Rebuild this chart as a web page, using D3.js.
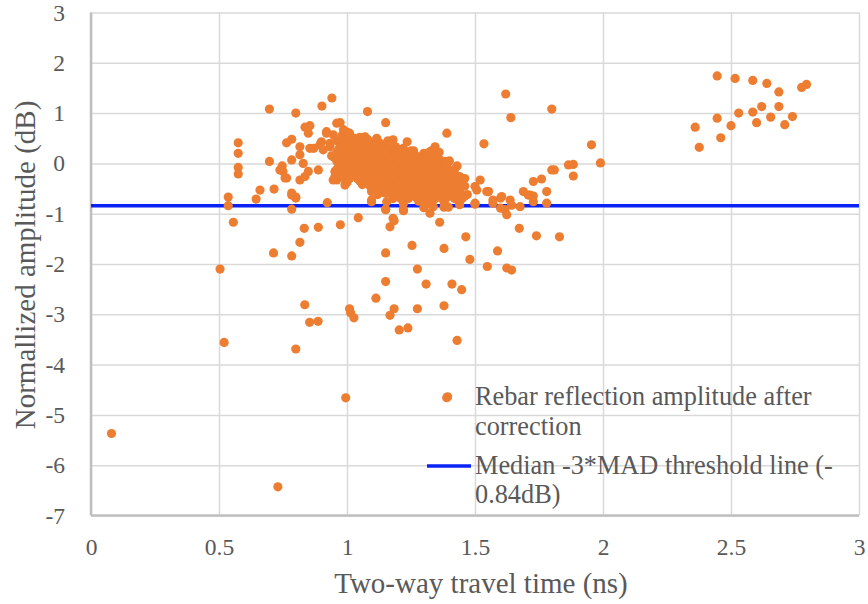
<!DOCTYPE html>
<html><head><meta charset="utf-8">
<script src="https://cdn.jsdelivr.net/npm/d3@7"></script>
<style>
html,body{margin:0;padding:0;background:#fff;}
</style></head>
<body>
<svg id="chart" width="868" height="604"></svg>
<script>
// ---------- data ----------
const xTicks = [0, 0.5, 1, 1.5, 2, 2.5, 3];
const yTicks = [-7, -6, -5, -4, -3, -2, -1, 0, 1, 2, 3];
const xTickLabels = ["0", "0.5", "1", "1.5", "2", "2.5", "3"];
const yTickLabels = ["-7", "-6", "-5", "-4", "-3", "-2", "-1", "0", "1", "2", "3"];
const thresholdValue = -0.84;
const legendSeriesLines = ["Rebar reflection amplitude after", "correction"];
const legendThresholdLines = ["Median -3*MAD threshold line (-", "0.84dB)"];
const xTitle = "Two-way travel time (ns)";
const yTitle = "Normallized amplitude (dB)";

// travel time (ns) of each point
const travelTime = [
  // low outliers
  0.08, 0.73, 0.504, 0.52, 0.713, 0.784, 0.816, 0.835, 0.854, 0.887, 0.80, 0.995,
  1.01, 1.014, 1.027, 1.113, 1.151, 1.151, 1.184, 1.168, 1.204, 1.238, 1.254, 1.275,
  1.309, 1.275, 1.379, 1.41, 1.448, 1.379, 1.43, 1.393, 1.464, 1.48,
  // near/below threshold
  0.536, 0.536, 0.556, 0.645, 0.784, 0.784, 0.80, 0.833, 0.888, 0.923, 0.974, 1.044,
  1.096, 1.151, 1.168, 1.184, 1.221, 1.324, 1.362, 1.379, 1.396, 1.50, 1.548,
  1.096, 1.151, 1.22, 1.18, 1.096, 1.148, 1.155,
  // left cluster
  0.575, 0.575, 0.575, 0.575, 0.697, 0.80, 0.697, 0.66, 0.715, 0.747, 0.75, 0.764,
  0.764, 0.784, 0.784, 0.816, 0.836, 0.855, 0.849, 0.816, 0.816, 0.829, 0.849, 0.836,
  0.855, 0.888, 0.902, 0.941, 0.90, 0.92, 0.934, 0.946, 0.96, 0.966, 0.953, 0.96,
  0.738, 0.758, 0.784, 0.80, 0.87, 0.894, 0.907, 0.933, 0.94, 0.946, 0.953, 0.992,
  1.01, 1.04, 0.92, 0.946, 0.986, 1.01, 1.03, 1.07, 1.116, 1.18, 1.19,
  1.08, 1.151, 1.235, 0.973, 1.324, 1.344, 1.39, 1.535,
  // right side of main cluster
  1.363, 1.383, 1.377, 1.43, 1.44, 1.42, 1.52, 1.50, 1.546, 1.57, 1.60, 1.50, 1.57,
  1.507, 1.552, 1.604, 1.637, 1.643, 1.60, 1.617, 1.624, 1.676, 1.673, 1.689, 1.708,
  1.728, 1.76, 1.728, 1.78, 1.78, 1.80, 1.81, 1.865, 1.74, 1.83, 1.324, 1.35, 1.337,
  1.62, 1.64, 1.80, 1.955, 1.99, 1.884, 1.884, 1.588, 1.624, 1.643, 1.552, 1.715, 1.728,
  1.44, 1.45, 1.46, 1.47,
  // dense blob, part 1
  0.96, 0.96, 0.96, 0.96,
  0.98, 0.98, 0.98, 0.98, 0.98,
  1.00, 1.00, 1.00, 1.00, 1.00, 1.00,
  1.02, 1.02, 1.02, 1.02, 1.02,
  1.04, 1.04, 1.04, 1.04, 1.04, 1.04,
  1.06, 1.06, 1.06, 1.06, 1.06,
  1.08, 1.08, 1.08, 1.08, 1.08,
  1.10, 1.10, 1.10, 1.10, 1.10, 1.10,
  1.12, 1.12, 1.12, 1.12, 1.12,
  1.14, 1.14, 1.14, 1.14, 1.14,
  1.16, 1.16, 1.16, 1.16, 1.16, 1.16,
  1.18, 1.18, 1.18, 1.18, 1.18,
  1.20, 1.20, 1.20, 1.20, 1.20,
  1.22, 1.22, 1.22, 1.22, 1.22, 1.22,
  1.24, 1.24, 1.24, 1.24, 1.24,
  1.26, 1.26, 1.26, 1.26, 1.26,
  1.28, 1.28, 1.28, 1.28, 1.28,
  1.30, 1.30, 1.30, 1.30, 1.30, 1.30,
  1.32, 1.32, 1.32, 1.32, 1.32,
  1.34, 1.34, 1.34, 1.34, 1.34,
  1.36, 1.36, 1.36, 1.36, 1.36,
  1.38, 1.38, 1.38, 1.38,
  1.40, 1.40, 1.40, 1.40,
  1.42, 1.42, 1.42,
  1.44, 1.44, 1.44,
  1.46, 1.46,
  // dense blob, part 2
  0.97, 0.97, 0.97,
  0.99, 0.99, 0.99, 0.99,
  1.01, 1.01, 1.01, 1.01, 1.01,
  1.03, 1.03, 1.03, 1.03,
  1.05, 1.05, 1.05, 1.05, 1.05,
  1.07, 1.07, 1.07, 1.07,
  1.09, 1.09, 1.09, 1.09, 1.09,
  1.11, 1.11, 1.11, 1.11,
  1.13, 1.13, 1.13, 1.13, 1.13,
  1.15, 1.15, 1.15, 1.15, 1.15,
  1.17, 1.17, 1.17, 1.17, 1.17,
  1.19, 1.19, 1.19, 1.19, 1.19,
  1.21, 1.21, 1.21, 1.21, 1.21,
  1.23, 1.23, 1.23, 1.23, 1.23,
  1.25, 1.25, 1.25, 1.25, 1.25,
  1.27, 1.27, 1.27, 1.27, 1.27,
  1.29, 1.29, 1.29, 1.29,
  1.31, 1.31, 1.31, 1.31, 1.31,
  1.33, 1.33, 1.33, 1.33, 1.33,
  1.35, 1.35, 1.35, 1.35,
  1.37, 1.37, 1.37, 1.37,
  1.39, 1.39, 1.39, 1.39,
  1.41, 1.41, 1.41,
  1.43, 1.43, 1.43,
  // far right cluster
  2.446, 2.516, 2.585, 2.64, 2.687, 2.776, 2.795, 2.62, 2.687, 2.585, 2.53, 2.60,
  2.655, 2.74, 2.71, 2.446, 2.50, 2.46, 2.36, 2.376
];

// normalized amplitude (dB) of each point
const amplitude = [
  // low outliers
  -5.37, -6.43, -2.10, -3.56, -1.78, -1.84, -1.57, -2.81, -3.16, -3.14, -3.69, -4.66,
  -2.89, -2.97, -3.07, -2.68, -2.35, -1.78, -2.89, -3.02, -3.31, -3.27, -1.63, -2.10,
  -2.40, -2.89, -1.69, -2.40, -2.51, -2.83, -3.52, -4.64, -1.46, -1.91,
  // near/below threshold
  -0.67, -0.84, -1.17, -0.71, -0.91, -0.63, -0.67, -1.29, -1.27, -0.78, -1.22, -1.08,
  -0.76, -0.91, -1.26, -1.14, -0.94, -0.99, -1.17, -0.87, -0.87, -0.81, -2.05,
  -0.73, -0.92, -0.92, -1.09, -0.56, -0.59, -0.76,
  // left cluster
  0.41, 0.20, -0.08, -0.21, 1.08, 1.00, 0.04, -0.53, -0.51, -0.05, -0.16, -0.29,
  0.41, 0.48, 0.07, -0.33, 0.72, 0.75, 0.60, 0.33, 0.17, 0.00, -0.16, -0.26,
  0.30, -0.13, 1.14, 1.30, 0.43, 0.60, 0.33, 0.13, 0.80, 0.00, -0.26, -0.33,
  -0.13, -0.29, -0.59, -0.69, 0.30, 0.37, 0.27, 0.40, 0.15, -0.33, -0.16, -0.43,
  -0.20, -0.26, 0.63, 0.57, 0.67, 0.60, 0.50, 0.53, 0.50, 0.47, 0.33,
  1.03, 0.81, 0.43, 0.81, 0.23, 0.33, 0.60, 0.39,
  // right side of main cluster
  0.07, 0.04, -0.10, -0.05, -0.26, -0.33, -0.33, -0.46, -0.56, -0.73, -0.69, -0.79, -0.79,
  -0.53, -0.56, -0.66, -0.73, -0.83, -0.89, -0.92, -1.02, -0.86, -1.29, -0.56, -0.63,
  -0.36, -0.31, -0.76, -0.56, -0.79, -0.13, -0.13, -0.03, -1.44, -1.46, -0.53, -0.66, -0.86,
  1.38, 0.91, 1.08, 0.37, 0.01, -0.02, -0.25, -1.74, -2.08, -2.12, -0.56, -0.63, -0.65,
  -0.55, -0.70, -0.30, -0.62,
  // dense blob, part 1
  0.45, 0.22, 0.05, -0.12,
  0.55, 0.35, 0.15, -0.05, -0.25,
  0.62, 0.40, 0.25, 0.08, -0.15, -0.38,
  0.50, 0.30, 0.12, -0.02, -0.22,
  0.45, 0.20, 0.35, 0.02, -0.30, -0.12,
  0.38, 0.15, -0.05, -0.42, 0.25,
  0.48, 0.28, 0.05, -0.18, -0.35,
  0.30, 0.10, -0.08, -0.28, -0.50, 0.42,
  0.22, 0.00, -0.20, -0.38, -0.62,
  0.35, 0.12, -0.10, -0.30, -0.45,
  0.20, -0.02, -0.22, -0.40, -0.58, 0.45,
  0.28, 0.05, -0.15, -0.35, -0.70,
  0.15, -0.08, -0.28, -0.48, -0.62,
  0.30, 0.02, -0.20, -0.40, -0.55, -0.80,
  0.18, -0.10, -0.32, -0.50, -0.70,
  0.05, -0.22, -0.42, -0.60, 0.25,
  0.10, -0.12, -0.35, -0.55, -0.75,
  0.20, -0.05, -0.28, -0.48, -0.68, -0.88,
  0.00, -0.20, -0.40, -0.60, -0.80,
  0.12, -0.10, -0.32, -0.52, -0.72,
  -0.02, -0.25, -0.45, -0.65, 0.22,
  -0.15, -0.38, -0.58, -0.78,
  0.05, -0.20, -0.42, -0.62,
  -0.12, -0.48, -0.70,
  -0.40, -0.60, -0.82,
  -0.45, -0.65,
  // dense blob, part 2
  0.30, 0.10, -0.20,
  0.45, 0.20, 0.00, -0.30,
  0.55, 0.35, 0.18, -0.08, -0.30,
  0.40, 0.22, 0.05, -0.15,
  0.52, 0.28, 0.10, -0.20, -0.35,
  0.30, 0.05, -0.12, -0.30,
  0.40, 0.18, -0.02, -0.25, -0.45,
  0.35, 0.20, -0.15, -0.40,
  0.40, 0.10, -0.08, -0.28, -0.50,
  0.25, 0.02, -0.18, -0.38, -0.55,
  0.35, 0.12, -0.10, -0.30, -0.50,
  0.18, -0.05, -0.25, -0.45, -0.60,
  0.22, 0.00, -0.18, -0.38, -0.70,
  0.10, -0.12, -0.30, -0.48, -0.65,
  0.25, 0.02, -0.20, -0.40, -0.58,
  0.15, -0.08, -0.30, -0.50, -0.68,
  0.02, -0.20, -0.42, -0.62,
  0.10, -0.12, -0.35, -0.55, -0.75,
  0.25, -0.05, -0.28, -0.48, -0.68,
  0.02, -0.18, -0.40, -0.60,
  -0.10, -0.32, -0.52, -0.70,
  -0.05, -0.28, -0.50, -0.68,
  -0.18, -0.38, -0.58,
  -0.25, -0.50, -0.72,
  // far right cluster
  1.74, 1.69, 1.65, 1.59, 1.42, 1.51, 1.57, 1.13, 1.13, 1.02, 1.00, 0.81,
  0.92, 0.93, 0.77, 0.90, 0.75, 0.51, 0.72, 0.32
];

// ---------- drawing ----------
const FONT = "'Liberation Serif', 'Times New Roman', Times, serif";
const svg = d3.select("#chart");
const W = 868, H = 604;
const margin = {left: 91, right: 868 - 859, top: 12.5, bottom: 604 - 515.5};

const x = d3.scaleLinear().domain([0, 3]).range([margin.left, W - margin.right]);
const y = d3.scaleLinear().domain([-7, 3]).range([H - margin.bottom, margin.top]);

const points = travelTime.map((t, i) => ({t, a: amplitude[i]}));

const gridColor = "#d9d9d9";
const textColor = "#595959";
const orange = "#ED7D31";
const blue = "#0a22f5";

// gridlines
svg.append("g").attr("transform", `translate(0,${y(-7)})`)
  .call(d3.axisBottom(x).tickValues(xTicks).tickSize(-(y(-7) - y(3))).tickFormat(""))
  .call(g => g.select(".domain").remove())
  .call(g => g.selectAll("line").attr("stroke", gridColor).attr("stroke-width", 1.5));
svg.append("g").attr("transform", `translate(${x(0)},0)`)
  .call(d3.axisLeft(y).tickValues(yTicks).tickSize(-(x(3) - x(0))).tickFormat(""))
  .call(g => g.select(".domain").remove())
  .call(g => g.selectAll("line").attr("stroke", gridColor).attr("stroke-width", 1.5));

// axis lines
svg.append("line").attr("x1", x(0)).attr("x2", x(0)).attr("y1", y(3)).attr("y2", y(-7))
  .attr("stroke", "#bfbfbf").attr("stroke-width", 2.5);
svg.append("line").attr("x1", x(0)).attr("x2", x(3)).attr("y1", y(-7)).attr("y2", y(-7))
  .attr("stroke", "#bfbfbf").attr("stroke-width", 2.5);

// tick labels
const xAxis = svg.append("g").attr("transform", `translate(0,${y(-7)})`)
  .call(d3.axisBottom(x).tickValues(xTicks).tickSize(0).tickPadding(23)
    .tickFormat((d, i) => xTickLabels[i]));
xAxis.select(".domain").remove();
xAxis.selectAll("text").attr("fill", textColor)
  .style("font-size", "23.5px").style("font-family", FONT);

const yAxis = svg.append("g").attr("transform", `translate(${x(0)},0)`)
  .call(d3.axisLeft(y).tickValues(yTicks).tickSize(0).tickPadding(26)
    .tickFormat((d, i) => yTickLabels[i]));
yAxis.select(".domain").remove();
yAxis.selectAll("text").attr("fill", textColor)
  .style("font-size", "23.5px").style("font-family", FONT);

// threshold line
svg.append("line")
  .attr("x1", x(0)).attr("x2", x(3))
  .attr("y1", y(thresholdValue)).attr("y2", y(thresholdValue))
  .attr("stroke", blue).attr("stroke-width", 3.5);

// points
svg.append("g").selectAll("circle").data(points).join("circle")
  .attr("cx", d => x(d.t)).attr("cy", d => y(d.a)).attr("r", 4.6)
  .attr("fill", orange);

// axis titles
svg.append("text").attr("x", 481).attr("y", 593).attr("text-anchor", "middle")
  .attr("fill", textColor).style("font-size", "29px").style("font-family", FONT).text(xTitle);
svg.append("text").attr("transform", "translate(35,265) rotate(-90)")
  .attr("text-anchor", "middle")
  .attr("fill", textColor).style("font-size", "29px").style("font-family", FONT).text(yTitle);

// legend
const lg = svg.append("g");
lg.append("circle").attr("cx", 446.7).attr("cy", 397.7).attr("r", 4.6).attr("fill", orange);
legendSeriesLines.forEach((s, i) => {
  lg.append("text").attr("x", 475).attr("y", 405 + i * 30).attr("fill", textColor)
    .style("font-size", "26.3px").style("font-family", FONT).text(s);
});
lg.append("line").attr("x1", 427).attr("x2", 471).attr("y1", 466).attr("y2", 466)
  .attr("stroke", blue).attr("stroke-width", 3.5);
legendThresholdLines.forEach((s, i) => {
  lg.append("text").attr("x", 475).attr("y", 473.5 + i * 29).attr("fill", textColor)
    .style("font-size", "26.3px").style("font-family", FONT).text(s);
});
</script>
</body></html>
